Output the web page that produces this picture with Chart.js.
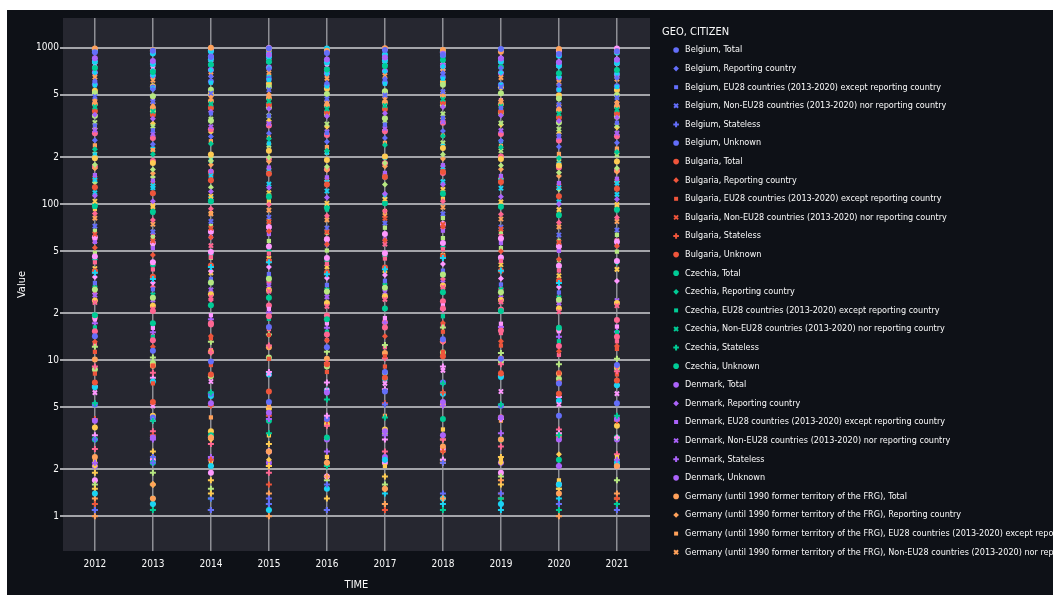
<!DOCTYPE html>
<html>
<head>
<meta charset="utf-8">
<script src="https://cdn.jsdelivr.net/npm/chart.js@4/dist/chart.umd.min.js"></script>
<style>
  body { margin: 0; background: #ffffff; }
  #wrap { position: absolute; left: 7px; top: 10px; width: 1046px; height: 585px; background: #0e1117; }
</style>
</head>
<body>
<div id="wrap"><canvas id="chart"></canvas></div>
<script>
// Citizenship by GEO and CITIZEN, log scale scatter

var years = [2012, 2013, 2014, 2015, 2016, 2017, 2018, 2019, 2020, 2021];
var tickValues = [1, 2, 5, 10, 20, 50, 100, 200, 500, 1000];
var tickLabels = ['1', '2', '5', '10', '2', '5', '100', '2', '5', '1000'];

var countries = ['Belgium', 'Bulgaria', 'Czechia', 'Denmark', 'Germany (until 1990 former territory of the FRG)',
  'Estonia', 'Ireland', 'Greece', 'Spain', 'France', 'Croatia', 'Italy', 'Cyprus', 'Latvia', 'Lithuania',
  'Luxembourg', 'Hungary', 'Malta', 'Netherlands', 'Austria'];
var citizens = ['Total', 'Reporting country', 'EU28 countries (2013-2020) except reporting country',
  'Non-EU28 countries (2013-2020) nor reporting country', 'Stateless', 'Unknown'];

// one row per citizen group, one value per year
var belgium = [
  [934, 958, 871, 990, 925, 968, 897, 981, 912, 948],
  [612, 540, 655, 731, 594, 633, 689, 742, 577, 640],
  [318, 296, 380, 367, 285, 322, 356, 411, 274, 331],
  [486, 452, 511, 538, 470, 497, 523, 561, 432, 479],
  [3.1, 2.4, 1.1, 1.3, 1.6, 5.2, 2.2, 1.4, 1.2, null],
  [14.2, 11.5, 9.8, 16.3, 12.1, 8.4, 13.6, 10.2, 7.1, 9.3]
];
var bulgaria = [
  [128, 117, 142, 156, 133, 149, 161, 138, 112, 125],
  [52.4, 47.1, 61.3, 66.8, 55.2, 58.6, 71.4, 49.8, 44.3, 53.7],
  [11.3, 9.2, 13.8, 14.5, 12.1, 10.6, 15.2, 12.4, 8.3, 11.8],
  [64, 58, 70, 77, 66, 81, 74, 69, 57, null],
  [1.2, null, 2.3, 1.6, null, 1.1, 2.6, 1.4, null, 1.3],
  [7.2, 5.4, 8.1, 6.3, 9.4, 7.7, 10.6, 8.2, 6.1, 7.4]
];
var czechia = [
  [742, 698, 781, 812, 726, 765, 834, 753, 687, 721],
  [224, 208, 243, 261, 219, 238, 272, 231, 197, 215],
  [96, 88, 104, 113, 92, 101, 118, 97, 84, 91],
  [418, 392, 437, 455, 406, 426, 468, 421, 379, 402],
  [5.3, 4.1, 6.2, 3.4, 5.6, 4.3, 7.1, 5.2, 3.3, 4.4],
  [19.4, 17.2, 22.5, 25.1, 18.3, 21.4, 27.2, 20.6, 16.1, null]
];
var denmark = [
  [856, 823, 878, 901, 842, 867, 915, 853, 808, 839],
  [372, 351, 389, 407, 364, 381, 418, 368, 339, 357],
  [153, 141, 162, 171, 148, 158, 177, 151, 136, 145],
  [297, 281, 312, 327, 290, 304, 336, 295, 268, 284],
  [2.2, 3.1, 2.4, 4.2, 2.6, 3.3, 5.1, 3.4, 2.1, 2.3],
  [4.1, 3.2, 5.3, 4.6, 6.2, 3.5, 5.4, 4.3, 3.1, 4.2]
];
var germany = [
  [987, 962, 999, 976, 955, 991, 968, 943, 982, 951],
  [463, 441, 487, 502, 455, 478, 516, 459, 428, 447],
  [237, 221, 252, 266, 231, 246, 274, 235, 209, 226],
  [648, 619, 671, 693, 637, 662, 708, 644, 601, 629],
  [1.0, 1.6, 1.1, 1.0, 1.8, 1.2, 1.3, 1.7, 1.0, 1.4],
  [2.4, 1.3, 3.2, 2.6, 2.2, 1.5, 2.8, 3.1, 1.4, 2.1]
];
var estonia = [
  [812, 786, 845, 872, 803, 829, 888, 817, 771, 798],
  [691, 664, 718, 742, 682, 705, 757, 694, 652, 679],
  [574, 549, 597, 621, 566, 588, 633, 579, 538, 561],
  [143, 131, 152, 164, 138, 149, 171, 141, 127, 136],
  [36.2, 33.1, 39.4, 42.3, 35.5, 38.2, 45.1, 37.4, 31.2, null],
  [1.4, 1.2, 2.1, 1.1, 1.5, 2.3, 1.3, 1.2, 1.6, 2.2]
];
var ireland = [
  [283, 264, 301, 318, 276, 292, 331, 280, 255, 271],
  [87, 79, 93, 99, 84, 90, 104, 86, 76, 82],
  [42.3, 38.1, 45.6, 48.2, 41.4, 44.7, 51.3, 43.2, 37.5, null],
  [23.4, 21.2, 25.3, 27.6, 22.1, 24.5, 29.2, 23.6, 20.4, 22.3],
  [9.1, 8.3, 11.2, 12.4, 9.6, 10.3, 13.1, 9.4, 7.2, 8.5],
  [15.3, 13.4, 17.2, 19.1, 14.6, 16.2, 21.4, 15.5, 12.3, 14.1]
];
var greece = [
  [514, 489, 538, 561, 506, 527, 579, 511, 474, 498],
  [178, 166, 188, 198, 173, 183, 207, 176, 159, 169],
  [67.2, 61.4, 72.1, 77.3, 65.2, 70.4, 81.2, 66.3, 58.1, 63.4],
  [332, 314, 349, 366, 325, 341, 377, 329, 301, 318],
  [12.2, 10.4, 13.1, 14.6, 11.3, 12.5, 16.2, 11.1, 9.4, 10.2],
  [28.3, 25.1, 31.4, 33.2, 27.5, 29.1, 35.3, 27.2, 24.4, null]
];
var spain = [
  [61.3, 56.2, 66.4, 71.1, 59.5, 64.2, 74.3, 60.1, 53.6, 57.2],
  [34.1, 31.3, 37.2, 39.4, 33.6, 35.1, 41.2, 33.3, 29.4, 32.1],
  [18.2, 16.1, 19.4, 21.3, 17.2, 18.6, 22.4, 17.1, 15.3, 16.4],
  [6.2, 5.1, 7.3, 8.2, 6.4, 7.1, 8.6, 6.3, 5.2, 6.1],
  [3.3, 4.1, 3.2, 2.6, 4.4, 3.1, 2.3, 4.2, 3.4, 3.2],
  [46.1, 42.3, 49.2, 53.4, 45.1, 48.3, 56.2, 45.4, 40.2, 43.1]
];
var france = [
  [196, 183, 207, 219, 191, 201, 228, 194, 176, 187],
  [2.1, 2.4, 3.1, 2.3, 2.2, 3.4, 2.6, 2.2, 2.5, 3.2],
  [2.3, 1.6, 2.2, 3.3, 2.4, 2.1, 3.6, 2.3, 1.7, 2.4],
  [104, 96, 112, 118, 101, 107, 124, 103, 92, 99],
  [1.5, 1.6, 1.4, 2.1, 1.3, 1.5, 2.2, 1.6, 1.5, 1.3],
  [24.1, 22.3, 26.4, 28.1, 23.2, 25.6, 30.1, 24.3, 21.4, 23.2]
];
var croatia = [
  [583, 556, 608, 631, 575, 598, 649, 580, 541, 566],
  [256, 241, 270, 284, 250, 264, 293, 254, 232, 246],
  [31.2, 28.4, 33.1, 35.6, 30.3, 32.2, 37.4, 30.5, 27.1, null],
  [72.1, 66.3, 77.4, 82.2, 70.1, 75.3, 86.4, 71.2, 63.3, 68.1],
  [1.1, 2.2, 1.3, 1.2, 1.1, 2.3, 1.4, 1.2, 2.1, 1.1],
  [5.2, 4.3, 6.1, 5.4, 4.2, 6.3, 7.2, 5.1, 4.4, 5.3]
];
var italy = [
  [394, 373, 412, 431, 386, 405, 446, 391, 358, 379],
  [13.1, 12.2, 14.3, 16.1, 13.4, 14.2, 17.3, 13.2, 11.4, 12.3],
  [8.2, 7.1, 9.3, 10.2, 8.4, 9.1, 11.3, 8.3, 7.2, 8.1],
  [147, 136, 156, 166, 143, 152, 172, 145, 131, 140],
  [4.2, 3.3, 5.1, 4.4, 4.1, 5.3, 6.2, 4.3, 3.2, 4.1],
  [37.1, 34.2, 40.3, 43.1, 36.4, 39.2, 46.1, 37.3, 32.2, null]
];
var cyprus = [
  [97, 89, 104, 111, 95, 101, 116, 96, 85, 92],
  [44.1, 40.2, 47.3, 50.1, 43.2, 46.4, 53.1, 44.2, 39.3, 42.1],
  [16.2, 14.1, 17.3, 18.4, 15.2, 16.3, 19.1, 15.4, 13.2, 15.1],
  [29.1, 26.2, 31.3, 33.4, 28.2, 30.1, 35.2, 28.4, 25.1, null],
  [1.2, 1.1, 1.3, 1.1, 2.1, 1.2, 1.1, 1.3, 1.1, 1.2],
  [3.1, 2.2, 3.3, 4.1, 3.2, 3.4, 4.2, 3.1, 2.3, 3.2]
];
var latvia = [
  [694, 662, 721, 748, 684, 709, 768, 689, 643, 672],
  [113, 104, 120, 127, 110, 116, 133, 111, 100, 107],
  [57.2, 52.1, 61.3, 64.2, 55.1, 59.3, 67.4, 56.2, 50.1, 54.3],
  [26.1, 24.3, 28.2, 30.1, 25.4, 27.2, 31.3, 25.1, 23.2, 24.1],
  [17.2, 15.1, 18.3, 20.2, 16.1, 17.4, 21.2, 16.3, 14.1, 15.2],
  [2.1, 3.2, 2.3, 2.2, 3.1, 2.4, 3.3, 2.2, 2.1, 3.1]
];
var lithuania = [
  [437, 415, 456, 476, 429, 448, 491, 434, 399, 421],
  [169, 157, 178, 187, 165, 174, 195, 167, 151, 161],
  [4.1, 3.2, 4.3, 5.1, 4.2, 4.4, 5.3, 4.1, 3.1, 4.2],
  [81.2, 74.1, 86.3, 91.2, 79.1, 84.3, 95.2, 80.1, 71.3, 77.2],
  [1.3, 1.2, 2.1, 1.4, 1.1, 1.2, 2.2, 1.3, 1.2, 1.1],
  [10.1, 9.2, 11.3, 12.1, 10.2, 11.1, 13.2, 10.3, 8.2, 9.1]
];
var luxembourg = [
  [963, 917, 946, 925, 987, 904, 951, 972, 889, 931],
  [741, 712, 768, 659, 705, 781, 727, 694, 756, 688],
  [207, 226, 189, 244, 213, 198, 235, 252, 181, 219],
  [118, 127, 109, 134, 121, 112, 139, 126, 103, 115],
  [1.1, 1.3, 1.1, 1.2, 1.1, 1.4, 1.2, 1.1, 1.3, 1.2],
  [6.7, 7.3, 5.9, 8.1, 6.4, 7.6, 6.1, 7.8, 5.5, 6.9]
];
var hungary = [
  [173, 188, 161, 195, 167, 182, 158, 201, 171, 164],
  [26.7, 29.4, 24.3, 31.6, 27.8, 25.2, 33.1, 28.5, 23.6, null],
  [12.7, 14.3, 11.6, 15.8, 13.4, 12.1, 16.5, 14.9, 10.8, 13.2],
  [57.8, 63.2, 54.1, 68.7, 59.6, 55.3, 71.2, 62.4, 51.7, 58.3],
  [2.7, 3.5, 2.9, 1.9, 3.8, 2.6, 3.1, 2.8, 3.6, 2.5],
  [18.7, 20.6, 16.9, 22.4, 19.3, 17.5, 23.8, 21.1, 15.6, 18.1]
];
var malta = [
  [367, 392, 341, 415, 376, 353, 428, 384, 332, 361],
  [137, 149, 128, 156, 141, 133, 162, 145, 124, 139],
  [48.7, 53.6, 45.2, 57.9, 50.3, 46.8, 60.4, 52.1, 43.6, 49.5],
  [208, 223, 194, 237, 214, 201, 246, 219, 187, 206],
  [1.6, 1.9, 1.5, 2.1, 1.7, 1.6, 2.3, 1.8, 1.5, 1.7],
  [8.7, 9.6, 7.9, 10.4, 9.1, 8.3, 11.2, 9.8, 7.6, 8.9]
];
var netherlands = [
  [978, 941, 963, 996, 952, 984, 937, 969, 958, 990],
  [823, 789, 856, 871, 808, 842, 794, 863, 816, 847],
  [443, 468, 421, 487, 452, 434, 498, 461, 415, 439],
  [776, 741, 802, 821, 758, 789, 733, 814, 767, 795],
  [6.8, 7.7, 6.1, 8.4, 7.2, 6.5, 9.1, 7.9, 5.8, 6.9],
  [1.7, 2.3, 1.9, 2.6, 1.8, 2.2, 2.7, 1.9, 1.6, 2.1]
];
var austria = [
  [531, 567, 508, 589, 546, 521, 603, 558, 497, 536],
  [304, 327, 289, 341, 312, 297, 353, 321, 283, 308],
  [92.6, 98.7, 87.4, 104, 94.8, 90.1, 108, 97.2, 85.3, 93.5],
  [38.6, 41.7, 36.2, 44.8, 39.5, 37.4, 46.9, 40.8, 34.7, 38.1],
  [1.9, 2.6, 1.7, 2.9, 2.2, 1.8, 3.1, 2.4, 1.6, 2.1],
  [3.7, 4.4, 3.5, 4.9, 3.9, 3.6, 5.2, 4.3, 3.3, 3.8]
];

var values = [belgium, bulgaria, czechia, denmark, germany, estonia, ireland, greece, spain, france,
  croatia, italy, cyprus, latvia, lithuania, luxembourg, hungary, malta, netherlands, austria];

var colorway = ['#636efa', '#EF553B', '#00cc96', '#ab63fa', '#FFA15A', '#19d3f3', '#FF6692', '#B6E880', '#FF97FF', '#FECB52'];
var symbols = ['circle', 'rectRot', 'rect', 'crossRot', 'cross', 'circle'];

Chart.defaults.font.family = "'DejaVu Sans Condensed', 'Liberation Sans', sans-serif";
Chart.defaults.color = '#fafafa';

var datasets = [];
countries.forEach(function (country, c) {
  citizens.forEach(function (cit, k) {
    var pts = [];
    years.forEach(function (yr, i) {
      var v = values[c][k][i];
      if (v !== null) pts.push({ x: yr, y: v });
    });
    var col = colorway[c % colorway.length];
    var lined = symbols[k] === 'cross' || symbols[k] === 'crossRot';
    datasets.push({
      label: country + ', ' + cit,
      data: pts,
      backgroundColor: col,
      borderColor: col,
      borderWidth: lined ? 2 : 0,
      pointStyle: symbols[k],
      pointRadius: 3,
      pointHoverRadius: 3
    });
  });
});

// grey plot area
var plotBg = {
  id: 'plotBg',
  beforeDraw: function (chart) {
    var a = chart.chartArea;
    var ctx = chart.ctx;
    ctx.save();
    ctx.fillStyle = '#262730';
    ctx.fillRect(a.left, a.top, a.right - a.left, a.bottom - a.top);
    ctx.restore();
  }
};

var ctx = document.getElementById('chart').getContext('2d');
var chart = new Chart(ctx, {
  type: 'scatter',
  data: { datasets: datasets },
  plugins: [plotBg],
  options: {
    responsive: true,
    maintainAspectRatio: false,
    animation: false,
    events: [],
    layout: { padding: { top: 8, right: 0, bottom: 0, left: 0 } },
    scales: {
      x: {
        type: 'linear',
        min: 2011.45,
        max: 2021.57,
        afterBuildTicks: function (s) { s.ticks = years.map(function (v) { return { value: v }; }); },
        afterFit: function (s) { s.height = 44; },
        ticks: {
          autoSkip: false,
          maxRotation: 0,
          padding: 7,
          color: '#fafafa',
          font: { size: 10 },
          callback: function (v) { return String(v); }
        },
        grid: { color: '#8e8f95', lineWidth: 1.5, drawTicks: false },
        border: { display: false },
        title: { display: true, text: 'TIME', color: '#fafafa', font: { size: 11 }, padding: { top: 0, bottom: 3 } }
      },
      y: {
        type: 'logarithmic',
        min: 0.635,
        max: 1550,
        afterBuildTicks: function (s) { s.ticks = tickValues.map(function (v) { return { value: v }; }); },
        afterFit: function (s) { s.width = 56; },
        ticks: {
          autoSkip: false,
          padding: 1,
          color: '#fafafa',
          font: { size: 10 },
          callback: function (v) { return tickLabels[tickValues.indexOf(v)]; }
        },
        grid: { color: '#a4a5aa', lineWidth: 2, drawTicks: true, tickLength: 3 },
        border: { display: false },
        title: { display: true, text: 'Value', color: '#fafafa', font: { size: 11 }, padding: { top: 9, bottom: 0 } }
      },
      pad: {
        type: 'linear',
        position: 'right',
        display: true,
        grid: { display: false },
        border: { display: false },
        ticks: { display: false },
        afterFit: function (s) { s.width = 12; }
      }
    },
    plugins: {
      tooltip: { enabled: false },
      legend: {
        position: 'right',
        align: 'start',
        maxWidth: 391,
        title: {
          display: true,
          text: 'GEO, CITIZEN',
          position: 'start',
          color: '#fafafa',
          font: { size: 11, lineHeight: 1 },
          padding: { top: 8.5, bottom: -1.6 }
        },
        labels: {
          usePointStyle: true,
          boxWidth: 14,
          boxHeight: 4,
          padding: 9.6,
          color: '#fafafa',
          font: { size: 9 },
          filter: function (item) { return item.datasetIndex < 28; }
        }
      }
    }
  }
});
</script>
</body>
</html>
